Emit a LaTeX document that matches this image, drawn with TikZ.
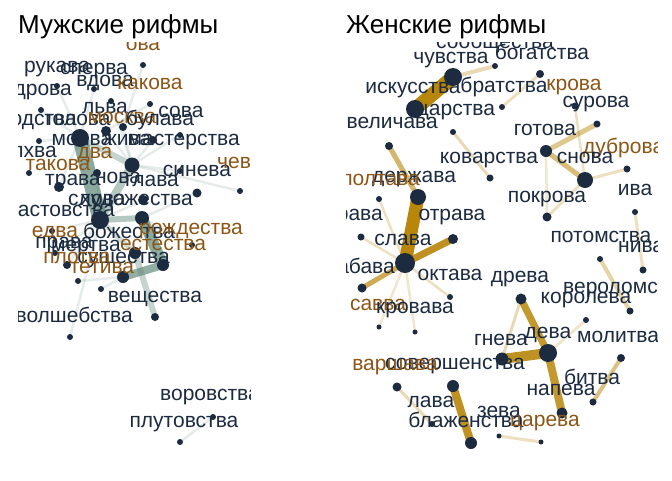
\documentclass[tikz,border=0pt]{standalone}
\usepackage{fontspec}
\setmainfont{Liberation Sans}
\usepackage{xcolor}
\usetikzlibrary{backgrounds}

\definecolor{navy}{RGB}{28,43,64}
\definecolor{ochre}{RGB}{140,86,22}
\definecolor{sage}{RGB}{90,133,116}
\definecolor{gold}{RGB}{184,134,11}

\begin{document}
\begin{tikzpicture}[x=1pt, y=-1pt,
    knot/.style={circle, fill=navy, inner sep=0pt, minimum size=#1},
    knot/.default=6pt,
    word/.style={text=navy, font=\fontsize{21}{21}\selectfont, inner sep=0pt, anchor=base},
    rhyme/.style={word, text=ochre},
    titel/.style={font=\fontsize{26}{26}\selectfont, inner sep=0pt, anchor=base west},
    mlink/.style={draw=sage, line width=#1},
    wlink/.style={draw=gold, line width=#1}
]
    \useasboundingbox (0,0) rectangle (672,480);

    \node[titel] (mtitle) at (18,33) {Мужские рифмы};
    \node[titel] (ztitle) at (346,33) {Женские рифмы};

    % masculine rhymes
    \begin{scope}
    \clip (18,42) rectangle (250,470);
    \node[knot] (m-sperva) at (143,65) {};
    \node[knot] (m-vdova) at (94,89) {};
    \node[knot] (m-drova) at (57,86) {};
    \node[knot] (m-lva) at (111,101) {};
    \node[knot] (m-sova) at (150,104) {};
    \node[knot] (m-rodstva) at (41,110) {};
    \node[knot=10pt] (m-golova) at (106,131) {};
    \node[knot=8pt] (m-bulava) at (123,127) {};
    \node[knot=18pt] (m-molva) at (80,138) {};
    \node[knot] (m-masterstva) at (180,135) {};
    \node[knot] (m-volhva) at (39,141) {};
    \node[knot=8pt] (m-zhiva) at (153,140) {};
    \node[knot=15pt] (m-osnova) at (132,165) {};
    \node[knot] (m-takova) at (29,173) {};
    \node[knot=8pt] (m-trava) at (97,173) {};
    \node[knot] (m-sineva) at (180,171) {};
    \node[knot=10pt] (m-glava) at (59,187) {};
    \node[knot=9pt] (m-slova) at (197,193) {};
    \node[knot] (m-chev) at (240,191) {};
    \node[knot=10pt] (m-hudozh) at (143,200) {};
    \node[knot=18pt] (m-hvast) at (100,220) {};
    \node[knot=14pt] (m-rozhd) at (142,218) {};
    \node[knot] (m-edva) at (52,231) {};
    \node[knot] (m-estestva) at (192,245) {};
    \node[knot] (m-prava) at (55,253) {};
    \node[knot=12pt] (m-mertva) at (135,253) {};
    \node[knot=12pt] (m-sushch) at (163,265) {};
    \node[knot=8pt] (m-plotva) at (67,265) {};
    \node[knot=12pt] (m-tetiva) at (123,277) {};
    \node[knot] (m-bozh) at (78,281) {};
    \node[knot] (m-vesh) at (101,289) {};
    \node[knot=8pt] (m-volsh) at (155,317) {};
    \node[knot] (m-koldov) at (70,337) {};
    \node[knot] (m-plut) at (180,442) {};
    \node[knot] (m-vorov) at (213,417) {};

    \node[rhyme] (mt-ova) at (143,50) {ова};
    \node[word] (mt-rukava) at (57,72) {рукава};
    \node[word] (mt-sperva) at (94,74) {сперва};
    \node[word] (mt-vdova) at (105,86) {вдова};
    \node[rhyme] (mt-kakova) at (150,89) {какова};
    \node[word, anchor=base east] (mt-drova) at (72,95) {дрова};
    \node[word] (mt-lva) at (105,113) {льва};
    \node[word] (mt-sova) at (181,117) {сова};
    \node[word, anchor=base east] (mt-rodstva) at (77,125) {родства};
    \node[word] (mt-golova) at (78,125) {голова};
    \node[rhyme] (mt-moskva) at (122,123) {москва};
    \node[word] (mt-bulava) at (160,125) {булава};
    \node[word] (mt-molva) at (82,145) {молва};
    \node[word] (mt-zhiva) at (127,145) {жива};
    \node[word, anchor=base east] (mt-masterstva) at (240,145) {мастерства};
    \node[word, anchor=base east] (mt-volhva) at (57,157) {волхва};
    \node[rhyme] (mt-dva) at (95,158) {два};
    \node[rhyme] (mt-takova) at (58,170) {такова};
    \node[word] (mt-trava) at (73,185) {трава};
    \node[word] (mt-nova) at (118,183) {нова};
    \node[word] (mt-glava) at (152,186) {глава};
    \node[word] (mt-sineva) at (197,176) {синева};
    \node[rhyme, anchor=base west] (mt-chev) at (217,168) {чев};
    \node[word, anchor=base west] (mt-slova) at (68,205) {слова};
    \node[word, anchor=base east] (mt-hudozh) at (193,205) {художества};
    \node[word, anchor=base east] (mt-hvast) at (115,216) {хвастовства};
    \node[rhyme] (mt-edva) at (55,237) {едва};
    \node[word] (mt-bozh) at (129,238) {божества};
    \node[rhyme] (mt-rozhd) at (191,234) {рождества};
    \node[word] (mt-prava) at (64,248) {права};
    \node[word] (mt-mertva) at (86,251) {мертва};
    \node[rhyme] (mt-estestva) at (163,250) {естества};
    \node[word, anchor=base east] (mt-sushch) at (170,263) {существа};
    \node[rhyme] (mt-plotva) at (77,263) {плотва};
    \node[rhyme] (mt-tetiva) at (102,273) {тетива};
    \node[word] (mt-vesh) at (155,302) {вещества};
    \node[word, anchor=base east] (mt-volsh) at (133,322) {волшебства};
    \node[word, anchor=base west] (mt-vorov) at (160,400) {воровства};
    \node[word] (mt-plut) at (184,427) {плутовства};
    \end{scope}

    % feminine rhymes
    \begin{scope}
    \clip (346,42) rectangle (657,470);
    \node[knot] (z-bogatstva) at (495,66) {};
    \node[knot=18pt] (z-chuvstva) at (453,77) {};
    \node[knot=8pt] (z-krova) at (540,74) {};
    \node[knot=18pt] (z-iskusstva) at (415,109) {};
    \node[knot] (z-bratstva) at (502,107) {};
    \node[knot=7pt] (z-surova) at (575,106) {};
    \node[knot] (z-tsarstva) at (453,132) {};
    \node[knot=7pt] (z-gotova) at (597,124) {};
    \node[knot=8pt] (z-velichava) at (389,146) {};
    \node[knot=12pt] (z-snova) at (546,151) {};
    \node[knot=7pt] (z-dubrova) at (627,169) {};
    \node[knot=7pt] (z-kovarstva) at (490,178) {};
    \node[knot=16pt] (z-pokrova) at (585,180) {};
    \node[knot=16pt] (z-derzhava) at (418,197) {};
    \node[knot] (z-poltava) at (379,199) {};
    \node[knot] (z-iva) at (635,212) {};
    \node[knot=9pt] (z-potomstva) at (547,217) {};
    \node[knot=10pt] (z-otrava) at (453,239) {};
    \node[knot=7pt] (z-trava) at (361,237) {};
    \node[knot=20pt] (z-slava) at (405,263) {};
    \node[knot=6pt] (z-verolomstva) at (600,259) {};
    \node[knot=7pt] (z-niva) at (643,270) {};
    \node[knot=9pt] (z-savva) at (362,288) {};
    \node[knot] (z-oktava) at (450,297) {};
    \node[knot=11pt] (z-dreva) at (521,299) {};
    \node[knot=7pt] (z-koroleva) at (630,311) {};
    \node[knot] (z-molitva) at (586,320) {};
    \node[knot=5pt] (z-krovava) at (379,327) {};
    \node[knot=5pt] (z-krovava2) at (415,332) {};
    \node[knot=18pt] (z-deva) at (548,353) {};
    \node[knot=13pt] (z-gneva) at (502,359) {};
    \node[knot=8pt] (z-bitva) at (621,358) {};
    \node[knot=9pt] (z-varshava) at (397,387) {};
    \node[knot=12pt] (z-sovershenstva) at (453,386) {};
    \node[knot=7pt] (z-napeva) at (593,402) {};
    \node[knot=11pt] (z-tsareva) at (562,413) {};
    \node[knot] (z-lava) at (432,424) {};
    \node[knot=12pt] (z-blazhenstva) at (471,443) {};
    \node[knot=5pt] (z-zeva) at (499,436) {};
    \node[knot=5pt] (z-nareva) at (541,442) {};

    \node[word] (zt-soob) at (495,48) {сообщества};
    \node[word] (zt-bogatstva) at (542,59) {богатства};
    \node[word] (zt-chuvstva) at (451,63) {чувства};
    \node[word] (zt-iskusstva) at (413,93) {искусства};
    \node[word] (zt-bratstva) at (504,92) {братства};
    \node[rhyme] (zt-krova) at (574,90) {крова};
    \node[word] (zt-surova) at (596,107) {сурова};
    \node[word] (zt-tsarstva) at (456,115) {царства};
    \node[word, anchor=base east] (zt-velichava) at (438,128) {величава};
    \node[word] (zt-gotova) at (545,135) {готова};
    \node[rhyme, anchor=base west] (zt-dubrova) at (583,153) {дуброва};
    \node[word] (zt-kovarstva) at (489,163) {коварства};
    \node[word] (zt-snova) at (585,163) {снова};
    \node[word] (zt-derzhava) at (414,182) {держава};
    \node[rhyme, anchor=base east] (zt-poltava) at (420,185) {полтава};
    \node[word] (zt-pokrova) at (547,202) {покрова};
    \node[word] (zt-iva) at (635,195) {ива};
    \node[word, anchor=base east] (zt-trava) at (383,220) {трава};
    \node[word] (zt-otrava) at (452,220) {отрава};
    \node[word] (zt-slava) at (403,245) {слава};
    \node[word] (zt-potomstva) at (601,242) {потомства};
    \node[word, anchor=base west] (zt-niva) at (618,252) {нива};
    \node[word, anchor=base east] (zt-zabava) at (395,273) {забава};
    \node[word] (zt-oktava) at (450,280) {октава};
    \node[word] (zt-dreva) at (520,282) {древа};
    \node[word, anchor=base west] (zt-verolomstva) at (563,293) {вероломства};
    \node[word] (zt-koroleva) at (586,303) {королева};
    \node[rhyme] (zt-savva) at (378,310) {савва};
    \node[word] (zt-krovava) at (415,313) {кровава};
    \node[word] (zt-gneva) at (501,345) {гнева};
    \node[word] (zt-deva) at (548,338) {дева};
    \node[word, anchor=base west] (zt-molitva) at (577,342) {молитва};
    \node[word] (zt-sovershenstva) at (455,369) {совершенства};
    \node[rhyme] (zt-varshava) at (395,370) {варшава};
    \node[word] (zt-bitva) at (592,384) {битва};
    \node[word] (zt-napeva) at (561,395) {напева};
    \node[word] (zt-lava) at (431,407) {лава};
    \node[word] (zt-zeva) at (499,417) {зева};
    \node[word] (zt-blazhenstva) at (466,427) {блаженства};
    \node[rhyme] (zt-tsareva) at (545,426) {царева};
    \end{scope}

    \begin{scope}[on background layer]
    \fill[white] (0,0) rectangle (672,480);
    % masculine links
    \draw[mlink=15pt, draw opacity=.7] (m-molva.center) -- (m-hvast.center);
    \draw[mlink=8pt, draw opacity=.45] (m-osnova.center) -- (m-hvast.center);
    \draw[mlink=6pt, draw opacity=.35] (m-molva.center) -- (m-osnova.center);
    \draw[mlink=6pt, draw opacity=.45] (m-hvast.center) -- (m-rozhd.center);
    \draw[mlink=11pt, draw opacity=.7] (m-rozhd.center) -- (m-sushch.center);
    \draw[mlink=8pt, draw opacity=.65] (m-sushch.center) -- (m-tetiva.center);
    \draw[mlink=5pt, draw opacity=.3] (m-hvast.center) -- (m-mertva.center);
    \draw[mlink=6pt, draw opacity=.35] (m-mertva.center) -- (m-volsh.center);
    \draw[mlink=2.5pt, draw opacity=.15] (m-vdova.center) -- (m-molva.center);
    \draw[mlink=2.5pt, draw opacity=.15] (m-drova.center) -- (m-molva.center);
    \draw[mlink=2.5pt, draw opacity=.15] (m-sperva.center) -- (m-bulava.center);
    \draw[mlink=2.5pt, draw opacity=.15] (m-lva.center) -- (m-osnova.center);
    \draw[mlink=2.5pt, draw opacity=.15] (m-sova.center) -- (m-golova.center);
    \draw[mlink=2.5pt, draw opacity=.15] (m-rodstva.center) -- (m-molva.center);
    \draw[mlink=2.5pt, draw opacity=.15] (m-volhva.center) -- (m-molva.center);
    \draw[mlink=2.5pt, draw opacity=.15] (m-glava.center) -- (m-molva.center);
    \draw[mlink=2.5pt, draw opacity=.15] (m-golova.center) -- (m-osnova.center);
    \draw[mlink=2.5pt, draw opacity=.15] (m-bulava.center) -- (m-osnova.center);
    \draw[mlink=2.5pt, draw opacity=.15] (m-zhiva.center) -- (m-osnova.center);
    \draw[mlink=2.5pt, draw opacity=.15] (m-masterstva.center) -- (m-osnova.center);
    \draw[mlink=2.5pt, draw opacity=.15] (m-sineva.center) -- (m-osnova.center);
    \draw[mlink=2.5pt, draw opacity=.15] (m-chev.center) -- (m-osnova.center);
    \draw[mlink=2.5pt, draw opacity=.15] (m-slova.center) -- (m-rozhd.center);
    \draw[mlink=2.5pt, draw opacity=.15] (m-hudozh.center) -- (m-hvast.center);
    \draw[mlink=2.5pt, draw opacity=.15] (m-estestva.center) -- (m-rozhd.center);
    \draw[mlink=2.5pt, draw opacity=.15] (m-edva.center) -- (m-hvast.center);
    \draw[mlink=2.5pt, draw opacity=.15] (m-prava.center) -- (m-hvast.center);
    \draw[mlink=2.5pt, draw opacity=.15] (m-plotva.center) -- (m-hvast.center);
    \draw[mlink=2.5pt, draw opacity=.15] (m-trava.center) -- (m-hvast.center);
    \draw[mlink=2.5pt, draw opacity=.15] (m-bozh.center) -- (m-tetiva.center);
    \draw[mlink=2.5pt, draw opacity=.15] (m-vesh.center) -- (m-tetiva.center);
    \draw[mlink=2.5pt, draw opacity=.15] (m-koldov.center) -- (m-hvast.center);
    \draw[mlink=2.5pt, draw opacity=.15] (m-plut.center) -- (m-vorov.center);
    % feminine links
    \draw[wlink=14pt] (z-chuvstva.center) -- (z-iskusstva.center);
    \draw[wlink=4pt, draw opacity=.3] (z-chuvstva.center) -- (z-bogatstva.center);
    \draw[wlink=3pt, draw opacity=.25] (z-bratstva.center) -- (z-krova.center);
    \draw[wlink=2.5pt, draw opacity=.25] (z-surova.center) -- (z-pokrova.center);
    \draw[wlink=5pt, draw opacity=.45] (z-snova.center) -- (z-gotova.center);
    \draw[wlink=5pt, draw opacity=.55] (z-snova.center) -- (z-pokrova.center);
    \draw[wlink=3pt, draw opacity=.25] (z-pokrova.center) -- (z-dubrova.center);
    \draw[wlink=2.5pt, draw opacity=.2] (z-snova.center) -- (z-potomstva.center);
    \draw[wlink=3pt, draw opacity=.25] (z-pokrova.center) -- (z-potomstva.center);
    \draw[wlink=3pt, draw opacity=.3] (z-tsarstva.center) -- (z-kovarstva.center);
    \draw[wlink=5pt, draw opacity=.6] (z-velichava.center) -- (z-derzhava.center);
    \draw[wlink=13pt] (z-derzhava.center) -- (z-slava.center);
    \draw[wlink=7pt, draw opacity=.9] (z-slava.center) -- (z-otrava.center);
    \draw[wlink=5pt, draw opacity=.7] (z-slava.center) -- (z-savva.center);
    \draw[wlink=2.5pt, draw opacity=.25] (z-slava.center) -- (z-trava.center);
    \draw[wlink=2.5pt, draw opacity=.25] (z-slava.center) -- (z-poltava.center);
    \draw[wlink=2.5pt, draw opacity=.25] (z-slava.center) -- (z-oktava.center);
    \draw[wlink=2.5pt, draw opacity=.2] (z-slava.center) -- (z-krovava.center);
    \draw[wlink=2.5pt, draw opacity=.2] (z-slava.center) -- (z-krovava2.center);
    \draw[wlink=3pt, draw opacity=.25] (z-iva.center) -- (z-niva.center);
    \draw[wlink=4pt, draw opacity=.35] (z-verolomstva.center) -- (z-koroleva.center);
    \draw[wlink=7pt, draw opacity=.85] (z-dreva.center) -- (z-deva.center);
    \draw[wlink=3pt, draw opacity=.3] (z-dreva.center) -- (z-gneva.center);
    \draw[wlink=3pt, draw opacity=.2] (z-deva.center) -- (z-molitva.center);
    \draw[wlink=10pt, draw opacity=.9] (z-deva.center) -- (z-gneva.center);
    \draw[wlink=8pt, draw opacity=.85] (z-deva.center) -- (z-tsareva.center);
    \draw[wlink=4pt, draw opacity=.5] (z-bitva.center) -- (z-napeva.center);
    \draw[wlink=8pt, draw opacity=.9] (z-sovershenstva.center) -- (z-blazhenstva.center);
    \draw[wlink=3pt, draw opacity=.3] (z-varshava.center) -- (z-lava.center);
    \draw[wlink=3pt, draw opacity=.25] (z-zeva.center) -- (z-nareva.center);
    \end{scope}
\end{tikzpicture}
\end{document}
